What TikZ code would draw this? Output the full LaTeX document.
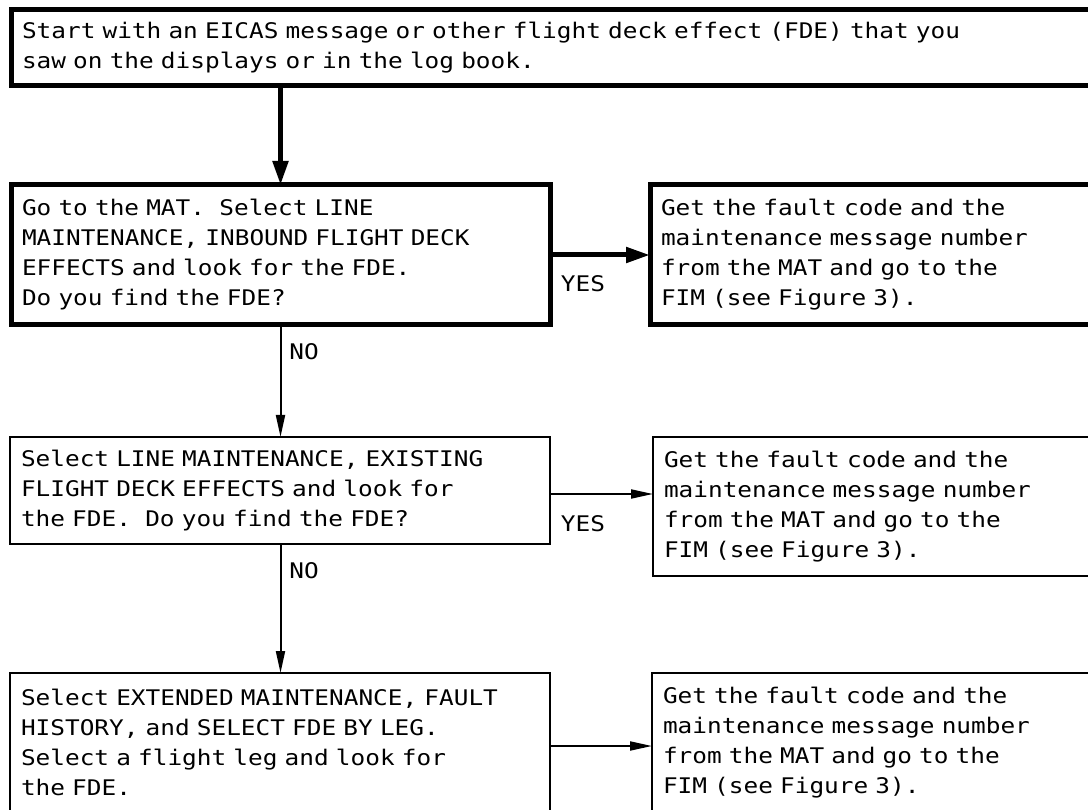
\documentclass[tikz,border=0pt]{standalone}
\usepackage{fontspec}
\setmainfont[FakeStretch=1.135]{DejaVu Sans Mono}
\AtBeginDocument{\fontsize{21.5pt}{30pt}\selectfont\frenchspacing}
\usetikzlibrary{arrows.meta}
\tikzset{
  box/.style={draw, rectangle, outer sep=0pt, inner xsep=11pt, inner ysep=0pt,
              anchor=north west, align=left},
  thickbox/.style={box, line width=5pt},
  thinbox/.style={box, line width=2pt},
  thickarrow/.style={line width=5pt, -{Triangle[length=24pt,width=15pt]}},
  thinarrow/.style={line width=2pt, -{Triangle[length=22pt,width=9pt]}},
  lbl/.style={inner sep=0pt}
}
\begin{document}
\begin{tikzpicture}[x=1pt,y=-1pt]
\path[use as bounding box] (0,0) rectangle (1088,810);
\clip (0,0) rectangle (1088,810);

\node[thickbox, minimum width=1089pt, text width=1067pt, minimum height=76pt] (b1) at (11,10)
  {Start with an EICAS message or other flight deck effect (FDE) that you\\saw on the displays or in the log book.};

\node[thickbox, minimum width=539pt, text width=517pt, minimum height=140pt] (b2) at (11,185)
  {Go to the MAT.\ \ Select LINE\\MAINTENANCE, INBOUND FLIGHT DECK\\EFFECTS and look for the FDE.\\Do you find the FDE?};

\node[thickbox, minimum width=450pt, text width=428pt, minimum height=140pt] (b3) at (650,185)
  {Get the fault code and the\\maintenance message number\\from the MAT and go to the\\FIM (see Figure 3).};

\node[thinbox, minimum width=540pt, text width=518pt, minimum height=107pt] (b4) at (10,437)
  {Select LINE MAINTENANCE, EXISTING\\FLIGHT DECK EFFECTS and look for\\the FDE.\ \ Do you find the FDE?};

\node[thinbox, minimum width=447pt, text width=425pt, minimum height=139pt] (b5) at (653,437)
  {Get the fault code and the\\maintenance message number\\from the MAT and go to the\\FIM (see Figure 3).};

\node[thinbox, minimum width=540pt, text width=518pt, minimum height=139pt] (b6) at (10,673)
  {Select EXTENDED MAINTENANCE, FAULT\\HISTORY, and SELECT FDE BY LEG.\\Select a flight leg and look for\\the FDE.};

\node[thinbox, minimum width=448pt, text width=426pt, minimum height=139pt] (b7) at (652,673)
  {Get the fault code and the\\maintenance message number\\from the MAT and go to the\\FIM (see Figure 3).};

\draw[thickarrow] (b1.south -| b2.north) -- (b2.north);
\draw[thickarrow] (b2.east) -- (b3.west);
\draw[thinarrow] (b2.south) -- (b2.south |- b4.north);
\draw[thinarrow] ([yshift=-3.5pt]b4.east) -- ([yshift=-3.5pt]b4.east -| b5.west);
\draw[thinarrow] (b4.south -| b2.south) -- (b6.north -| b2.south);
\draw[thinarrow] ([yshift=-3.5pt]b6.east) -- ([yshift=-3.5pt]b6.east -| b7.west);

\node[lbl] (yes1) at (583,284) {YES};
\node[lbl] (no1) at (304,352) {NO};
\node[lbl] (yes2) at (583,524) {YES};
\node[lbl] (no2) at (304,571) {NO};
\end{tikzpicture}
\end{document}
